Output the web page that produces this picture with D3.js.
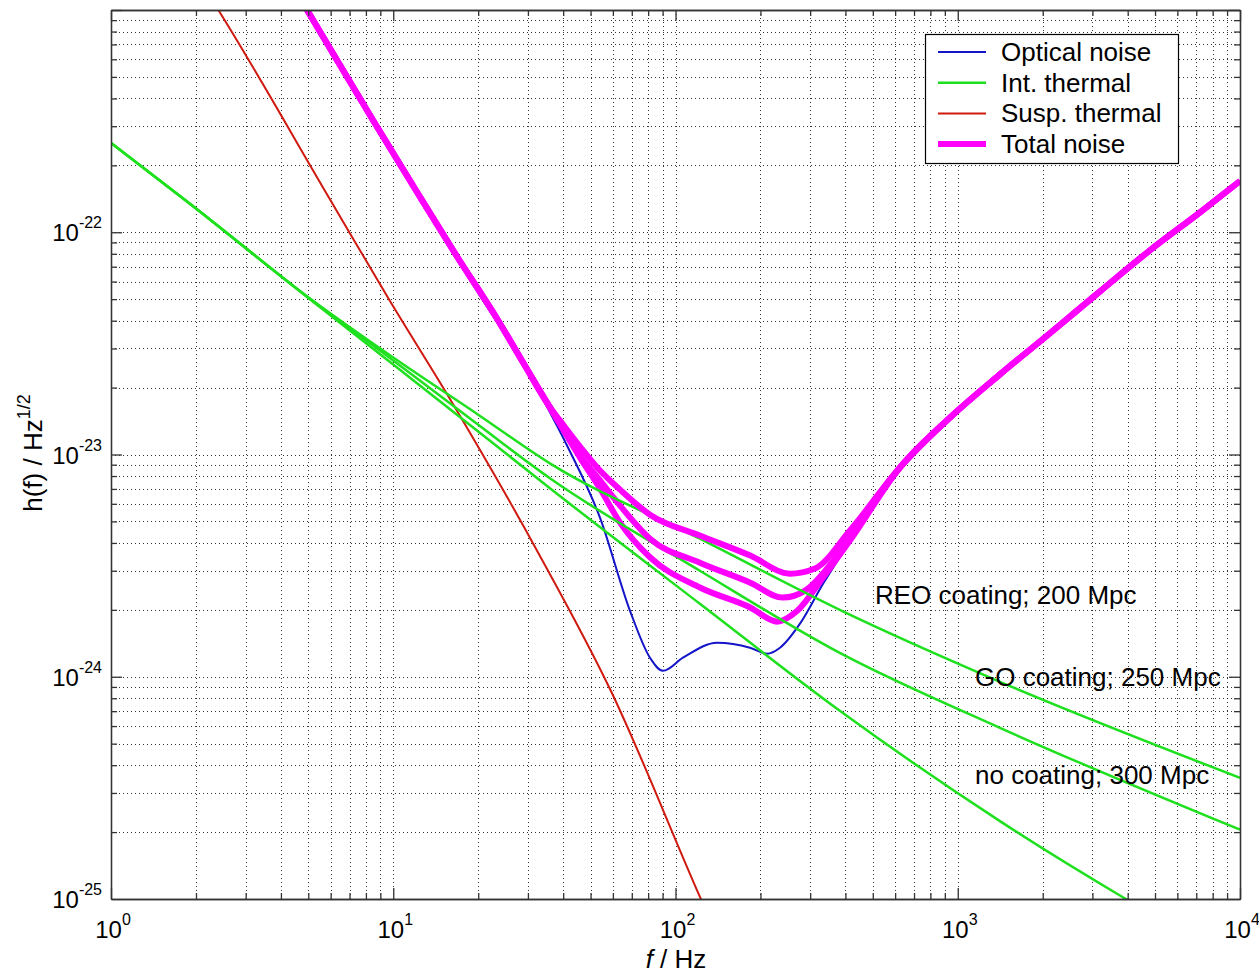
<!DOCTYPE html>
<html>
<head>
<meta charset="utf-8">
<title>Noise budget</title>
<script src="https://d3js.org/d3.v7.min.js"></script>
<style>
  body { margin: 0; background: #fff; }
  text { font-family: "Liberation Sans", Arial, sans-serif; fill: #000; }
</style>
</head>
<body>
<div id="chart"></div>
<script>
// ---- data (f in Hz, h in 1/sqrt(Hz)) ----
var freqOptical = [4.5, 4.95, 8.48, 12.44, 16.8, 23.5, 26.57, 33.1, 41.27, 54, 69, 81.2, 90.3, 106.3, 140.3, 183.6, 210.9, 234.6, 276.1, 333.2, 382.5, 450.5, 624, 939, 1411, 2122, 3192, 4800, 7218, 10000];
var opticalNoise = [1.2e-21, 9.8e-22, 3.12e-22, 1.40e-22, 7.6e-23, 3.9e-23, 3.16e-23, 1.883e-23, 1.098e-23, 5.2e-24, 1.98e-24, 1.218e-24, 1.064e-24, 1.218e-24, 1.422e-24, 1.351e-24, 1.27e-24, 1.351e-24, 1.733e-24, 2.62e-24, 3.47e-24, 4.79e-24, 8.47e-24, 1.43e-23, 2.25e-23, 3.45e-23, 5.35e-23, 8.2e-23, 1.21e-22, 1.68e-22];

var freqThermal = [1, 2, 5, 10, 20, 36, 122, 382, 1411, 10000];
var thermalREO = [2.52e-22, 1.28e-22, 5.1e-23, 2.73e-23, 1.51e-23, 9.10e-24, 4.18e-24, 2.0e-24, 9.49e-25, 3.51e-25];
var thermalGO  = [2.52e-22, 1.28e-22, 5.08e-23, 2.65e-23, 1.36e-23, 7.80e-24, 3.0e-24, 1.28e-24, 5.89e-25, 2.05e-25];
var thermalNone = [2.52e-22, 1.28e-22, 5.06e-23, 2.54e-23, 1.27e-23, 7.03e-24, 2.13e-24, 7.03e-25, 2.24e-25, 5.05e-26];

var freqSusp = [2, 2.4, 6, 9.7, 16, 32, 59, 123, 140];
var suspThermal = [1.44e-21, 1.0e-21, 1.39e-22, 4.94e-23, 1.75e-23, 3.78e-24, 8.65e-25, 1.0e-25, 6.9e-26];

var freqTotREO = [4.5, 4.95, 8.48, 12.44, 16.8, 23.5, 28.8, 35.9, 39, 45.9, 54, 63.6, 81.2, 122, 184, 254, 312, 415, 624, 939, 1411, 2122, 3192, 4800, 7218, 10000];
var totalREO = [1.22e-21, 1.0e-21, 3.19e-22, 1.44e-22, 7.8e-23, 4.02e-23, 2.6e-23, 1.63e-23, 1.42e-23, 1.086e-23, 8.47e-24, 6.95e-24, 5.36e-24, 4.32e-24, 3.51e-24, 2.91e-24, 3.07e-24, 4.55e-24, 8.74e-24, 1.467e-23, 2.293e-23, 3.51e-23, 5.42e-23, 8.3e-23, 1.23e-22, 1.70e-22];
var freqTotGO = [4.5, 4.95, 8.48, 12.44, 16.8, 23.5, 28.8, 35.9, 45.9, 54, 63.6, 81.2, 122, 184, 240, 288, 367, 450, 624, 939, 1411, 2122, 3192, 4800, 7218, 10000];
var totalGO = [1.22e-21, 1.0e-21, 3.19e-22, 1.44e-22, 7.8e-23, 4.02e-23, 2.6e-23, 1.63e-23, 9.9e-24, 7.64e-24, 5.89e-24, 4.18e-24, 3.26e-24, 2.65e-24, 2.27e-24, 2.44e-24, 3.40e-24, 5.04e-24, 8.74e-24, 1.467e-23, 2.293e-23, 3.51e-23, 5.42e-23, 8.3e-23, 1.23e-22, 1.70e-22];
var freqTotNone = [4.5, 4.95, 8.48, 12.44, 16.8, 23.5, 28.8, 35.9, 45.9, 54, 63.6, 81.2, 122, 184, 229, 270, 333, 415, 624, 939, 1411, 2122, 3192, 4800, 7218, 10000];
var totalNone = [1.22e-21, 1.0e-21, 3.19e-22, 1.44e-22, 7.8e-23, 4.02e-23, 2.6e-23, 1.63e-23, 9.69e-24, 7.03e-24, 4.94e-24, 3.45e-24, 2.52e-24, 2.05e-24, 1.77e-24, 1.98e-24, 2.79e-24, 4.10e-24, 8.74e-24, 1.467e-23, 2.293e-23, 3.51e-23, 5.42e-23, 8.3e-23, 1.23e-22, 1.70e-22];

var legendLabels = ["Optical noise", "Int. thermal", "Susp. thermal", "Total noise"];
var annotLabels = ["REO coating; 200 Mpc", "GO coating; 250 Mpc", "no coating; 300 Mpc"];
var annotFreq = [509, 1151, 1151];
var annotH = [2.13e-24, 9.11e-25, 3.30e-25];

var xTickExp = [0, 1, 2, 3, 4];
var yTickExp = [-25, -24, -23, -22];

// ---- layout ----
var width = 1259, height = 974;
var pLeft = 111, pRight = 1240, pTop = 10, pBottom = 899;

var x = d3.scaleLog().domain([1, 1e4]).range([pLeft, pRight]);
var y = d3.scaleLog().domain([1e-25, 1e-21]).range([pBottom, pTop]);

var svg = d3.select("#chart").append("svg")
    .attr("width", width).attr("height", height);

svg.append("rect").attr("width", width).attr("height", height).attr("fill", "#fff");

function isMajor(d) {
    var l = Math.log10(d);
    return Math.abs(l - Math.round(l)) < 1e-6;
}

// grid (dotted, major + minor)
var grid = svg.append("g");
grid.selectAll(".gx").data(x.ticks().filter(function(d) { return d > 1 && d < 1e4; }))
  .join("line")
    .attr("x1", function(d) { return Math.round(x(d)) + 0.5; })
    .attr("x2", function(d) { return Math.round(x(d)) + 0.5; })
    .attr("y1", pTop).attr("y2", pBottom)
    .attr("stroke", "#000").attr("stroke-width", 1)
    .attr("stroke-dasharray", "1,3").attr("opacity", 0.8);
grid.selectAll(".gy").data(y.ticks().filter(function(d) { return d > 1.01e-25 && d < 0.99e-21; }))
  .join("line")
    .attr("y1", function(d) { return Math.round(y(d)) + 0.5; })
    .attr("y2", function(d) { return Math.round(y(d)) + 0.5; })
    .attr("x1", pLeft).attr("x2", pRight)
    .attr("stroke", "#000").attr("stroke-width", 1)
    .attr("stroke-dasharray", "1,3").attr("opacity", 0.8);

// curves
svg.append("clipPath").attr("id", "clip")
  .append("rect").attr("x", pLeft).attr("y", pTop)
  .attr("width", pRight - pLeft).attr("height", pBottom - pTop);

var line = d3.line()
    .x(function(d) { return x(d[0]); })
    .y(function(d) { return y(d[1]); })
    .curve(d3.curveMonotoneX);

var plot = svg.append("g").attr("clip-path", "url(#clip)");

var cBlue = "#1414c8", cGreen = "#1fe01f", cRed = "#d01a10", cMag = "#ff00ff";

function draw(f, h, color, w) {
    plot.append("path")
        .datum(d3.zip(f, h))
        .attr("d", line)
        .attr("fill", "none")
        .attr("stroke", color)
        .attr("stroke-width", w)
        .attr("stroke-linejoin", "round");
}

draw(freqOptical, opticalNoise, cBlue, 2);
draw(freqSusp, suspThermal, cRed, 2);
draw(freqThermal, thermalNone, cGreen, 2.5);
draw(freqTotNone, totalNone, cMag, 6);
draw(freqThermal, thermalGO, cGreen, 2.5);
draw(freqTotGO, totalGO, cMag, 6);
draw(freqThermal, thermalREO, cGreen, 2.5);
draw(freqTotREO, totalREO, cMag, 6);

// axes (inward ticks on all four sides)
var xMajor = x.ticks().filter(isMajor), xMinor = x.ticks().filter(function(d) { return !isMajor(d); });
var yMajor = y.ticks().filter(isMajor), yMinor = y.ticks().filter(function(d) { return !isMajor(d); });

function styleAxis(g) {
    g.selectAll("path").attr("stroke", "#333").attr("stroke-width", 1.3);
    g.selectAll("line").attr("stroke", "#333").attr("stroke-width", 1.3);
}

[[d3.axisBottom, pBottom], [d3.axisTop, pTop]].forEach(function(a) {
    svg.append("g").attr("transform", "translate(0," + a[1] + ")")
        .call(a[0](x).tickValues(xMajor).tickSize(-11).tickSizeOuter(0).tickFormat("")).call(styleAxis);
    svg.append("g").attr("transform", "translate(0," + a[1] + ")")
        .call(a[0](x).tickValues(xMinor).tickSize(-6).tickSizeOuter(0).tickFormat("")).call(styleAxis);
});
[[d3.axisLeft, pLeft], [d3.axisRight, pRight]].forEach(function(a) {
    svg.append("g").attr("transform", "translate(" + a[1] + ",0)")
        .call(a[0](y).tickValues(yMajor).tickSize(-11).tickSizeOuter(0).tickFormat("")).call(styleAxis);
    svg.append("g").attr("transform", "translate(" + a[1] + ",0)")
        .call(a[0](y).tickValues(yMinor).tickSize(-6).tickSizeOuter(0).tickFormat("")).call(styleAxis);
});

// tick labels as 10^n
xTickExp.forEach(function(e) {
    var t = svg.append("text").attr("x", x(Math.pow(10, e)) + 2).attr("y", 938)
        .attr("text-anchor", "middle").attr("font-size", 24);
    t.append("tspan").text("10");
    t.append("tspan").attr("dy", -13).attr("font-size", 16).text(e);
});
yTickExp.forEach(function(e) {
    var t = svg.append("text").attr("x", 102).attr("y", y(Math.pow(10, e)) + 9)
        .attr("text-anchor", "end").attr("font-size", 24);
    t.append("tspan").text("10");
    t.append("tspan").attr("dy", -13).attr("font-size", 16).text(e);
});

// axis titles
var xt = svg.append("text").attr("x", 676).attr("y", 968)
    .attr("text-anchor", "middle").attr("font-size", 26);
xt.append("tspan").attr("font-style", "italic").text("f");
xt.append("tspan").text(" / Hz");

var yt = svg.append("text").attr("transform", "translate(42,453) rotate(-90)")
    .attr("text-anchor", "middle").attr("font-size", 26);
yt.append("tspan").text("h(f) / Hz");
yt.append("tspan").attr("dy", -12).attr("font-size", 18).text("1/2");

// annotations
annotLabels.forEach(function(s, i) {
    svg.append("text").attr("x", x(annotFreq[i])).attr("y", y(annotH[i]))
        .attr("font-size", 26).text(s);
});

// legend
var lg = svg.append("g");
lg.append("rect").attr("x", 925.5).attr("y", 34.5).attr("width", 253).attr("height", 129)
    .attr("fill", "#fff").attr("stroke", "#000").attr("stroke-width", 1.2);
var legColors = [cBlue, cGreen, cRed, cMag], legW = [2, 2.5, 2, 6];
legendLabels.forEach(function(s, i) {
    var cy = 52 + i * 30.7;
    lg.append("line").attr("x1", 938).attr("x2", 986).attr("y1", cy).attr("y2", cy)
        .attr("stroke", legColors[i]).attr("stroke-width", legW[i]);
    lg.append("text").attr("x", 1001).attr("y", cy + 9).attr("font-size", 26).text(s);
});
</script>
</body>
</html>
